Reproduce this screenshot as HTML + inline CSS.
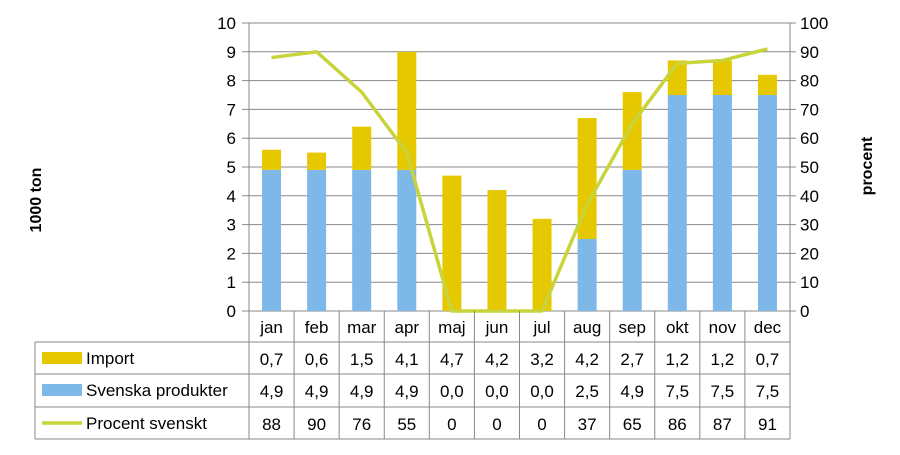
<!DOCTYPE html>
<html><head><meta charset="utf-8"><style>
body{margin:0;background:#fff;font-family:"Liberation Sans",sans-serif}
</style></head><body>
<svg id="c" width="900" height="450" xmlns="http://www.w3.org/2000/svg" font-family="Liberation Sans, sans-serif"></svg>
<script>
const months=["jan","feb","mar","apr","maj","jun","jul","aug","sep","okt","nov","dec"];
const importVals=[0.7,0.6,1.5,4.1,4.7,4.2,3.2,4.2,2.7,1.2,1.2,0.7];
const svenskaVals=[4.9,4.9,4.9,4.9,0,0,0,2.5,4.9,7.5,7.5,7.5];
const procentVals=[88,90,76,55,0,0,0,37,65,86,87,91];
const leftTicks=[0,1,2,3,4,5,6,7,8,9,10];
const rightTicks=[0,10,20,30,40,50,60,70,80,90,100];
const importLabels=["0,7","0,6","1,5","4,1","4,7","4,2","3,2","4,2","2,7","1,2","1,2","0,7"];
const svenskaLabels=["4,9","4,9","4,9","4,9","0,0","0,0","0,0","2,5","4,9","7,5","7,5","7,5"];
const procentLabels=procentVals.map(String);

const svg=document.getElementById('c');const NS="http://www.w3.org/2000/svg";
function mk(t,a,txt){const e=document.createElementNS(NS,t);for(const k in a)e.setAttribute(k,a[k]);if(txt!==undefined)e.textContent=txt;svg.appendChild(e);return e;}
const X0=249,X1=790,Y0=311,Y1=23,bw=(X1-X0)/12;
const yL=v=>Y0-(v/10)*(Y0-Y1), yR=v=>Y0-(v/100)*(Y0-Y1), xc=i=>X0+bw*(i+0.5);
leftTicks.forEach(v=>{const y=yL(v);
 let g=mk('line',{x1:242,x2:X1,y1:y,y2:y,stroke:'#888','stroke-width':1});
 let t=mk('text',{x:236,y:y+6,'text-anchor':'end','font-size':17,fill:'#000'},v);});
rightTicks.forEach(v=>{const y=yR(v);
 mk('line',{x1:X1,x2:X1+6,y1:y,y2:y,stroke:'#888'});
 let t=mk('text',{x:800,y:y+6,'font-size':17,fill:'#000'},v);});
mk('line',{x1:X0,x2:X0,y1:Y1,y2:439,stroke:'#888'});
mk('line',{x1:X1,x2:X1,y1:Y1,y2:439,stroke:'#888'});
months.forEach((m,i)=>{const x=xc(i),w=19;
 let b=mk('rect',{x:x-w/2,y:yL(svenskaVals[i]),width:w,height:Y0-yL(svenskaVals[i]),fill:'#7db8e8'});
 const top=svenskaVals[i]+importVals[i];
 let c=mk('rect',{x:x-w/2,y:yL(top),width:w,height:yL(svenskaVals[i])-yL(top),fill:'#e6c800'});
});
let l=mk('polyline',{points:procentVals.map((v,i)=>xc(i)+','+yR(v)).join(' '),fill:'none',stroke:'#c8d43a','stroke-width':3.5,'stroke-linejoin':'round'});

// table
const TL=35,rows=[311,342,374,407,439];
for(let r=1;r<rows.length;r++){mk('line',{x1:TL,x2:X1,y1:rows[r],y2:rows[r],stroke:'#888'});}
mk('line',{x1:TL,x2:X0,y1:rows[1],y2:rows[1],stroke:'#888'});
mk('line',{x1:TL,x2:TL,y1:rows[1],y2:rows[4],stroke:'#888'});
for(let i=1;i<12;i++)mk('line',{x1:X0+bw*i,x2:X0+bw*i,y1:Y0,y2:rows[4],stroke:'#888'});
months.forEach((m,i)=>{let t=mk('text',{x:xc(i),y:333,'text-anchor':'middle','font-size':17},m);});
const rowsData=[importLabels,svenskaLabels,procentLabels];
rowsData.forEach((arr,r)=>arr.forEach((v,i)=>{let t=mk('text',{x:xc(i),y:rows[r+1]+23,'text-anchor':'middle','font-size':17},v);}));
mk('rect',{x:42,y:352,width:40,height:12,fill:'#e6c800'});
mk('rect',{x:42,y:384,width:40,height:12,fill:'#7db8e8'});
mk('line',{x1:42,x2:82,y1:423,y2:423,stroke:'#c8d43a','stroke-width':3.5});
[["Import",364],["Svenska produkter",396],["Procent svenskt",429]].forEach(([s,y])=>{let t=mk('text',{x:86,y:y,'font-size':17},s);});
let yt=mk('text',{x:0,y:0,'font-size':16,'font-weight':'bold','text-anchor':'middle',transform:'translate(41,200) rotate(-90)'},'1000 ton');
let rt=mk('text',{x:0,y:0,'font-size':16,'font-weight':'bold','text-anchor':'middle',transform:'translate(872,166) rotate(-90)'},'procent');
</script></body></html>
